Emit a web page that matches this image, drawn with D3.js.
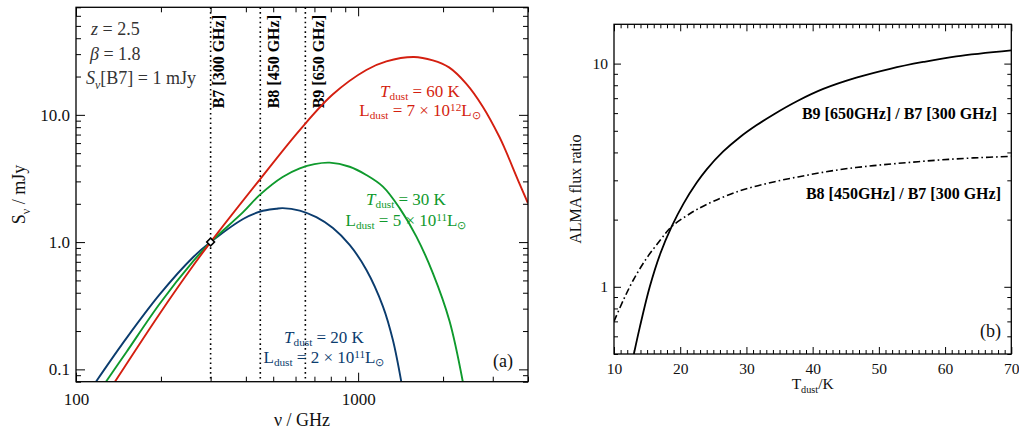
<!DOCTYPE html>
<html><head><meta charset="utf-8">
<script src="https://cdn.jsdelivr.net/npm/d3@7"></script>
<style>
body{margin:0;background:#fff}
svg{display:block}
text{font-family:"Liberation Serif","Times New Roman",serif;white-space:pre}
</style>
</head><body>
<svg id="c" width="1019" height="434"></svg>
<script>
// ---------------- data ----------------
// Panel (a): observed-frame SEDs normalised at B7
const xLDomain = [100, 4000];
const yLDomain = [0.08, 70];
const xLMajor = [100, 1000];
const yLMajor = [0.1, 1, 10];
const yLMajorLabels = ["0.1", "1.0", "10.0"];

const nu20 = [117.7, 151, 198, 260, 300, 391, 450, 513, 540, 621, 711, 814, 933, 1069, 1224, 1328, 1422];
const s20  = [0.080, 0.176, 0.388, 0.76, 1.0, 1.52, 1.74, 1.83, 1.85, 1.77, 1.57, 1.29, 0.95, 0.607, 0.313, 0.170, 0.080];

const nu30 = [127.7, 151, 198, 260, 300, 391, 448, 540, 621, 700, 793, 933, 1069, 1224, 1403, 1607, 1840, 2108, 2350];
const s30  = [0.080, 0.137, 0.328, 0.705, 1.0, 1.72, 2.35, 3.25, 3.80, 4.10, 4.21, 3.91, 3.37, 2.73, 1.85, 1.11, 0.571, 0.24, 0.080];

const nu60 = [137.4, 198, 260, 300, 448, 621, 814, 1069, 1259, 1576, 1840, 2100, 2415, 2766, 3169, 3325, 3708, 4000];
const s60  = [0.080, 0.274, 0.652, 1.0, 3.1, 7.6, 14.5, 22.5, 26.3, 28.5, 26.8, 23.6, 17.6, 11.6, 6.7, 5.3, 2.98, 2.02];

const sedTemps = ["20", "30", "60"];
const sedLumMant = ["2", "5", "7"];
const sedLumExp = ["11", "11", "12"];

const bandFreq = [300, 450, 650];
const bandLabels = ["B7 [300 GHz]", "B8 [450 GHz]", "B9 [650 GHz]"];
const markerNu = [300];
const markerS = [1];

// Panel (b): ALMA flux ratios vs dust temperature
const xRDomain = [10, 70];
const yRDomain = [0.5, 15];
const xRMajor = [10, 20, 30, 40, 50, 60, 70];
const yRMajor = [1, 10];

const tR9 = [13.0, 13.9, 15.4, 17.0, 18.7, 20.5, 22.5, 24.0, 26.5, 29.0, 31.5, 34.1, 37.7, 41.6, 46.6, 51.7, 56.7, 61.7, 70];
const r9  = [0.50, 0.66, 1.00, 1.41, 1.86, 2.36, 2.93, 3.36, 4.04, 4.68, 5.29, 5.92, 6.80, 7.70, 8.65, 9.48, 10.17, 10.78, 11.47];

const tR8 = [10, 11.4, 12.9, 14.9, 17.0, 18.7, 21.5, 24.0, 29.0, 34.1, 39.1, 44.1, 49.2, 54.2, 59.2, 64.3, 70];
const r8  = [0.70, 0.87, 1.07, 1.34, 1.62, 1.86, 2.13, 2.34, 2.69, 2.95, 3.16, 3.35, 3.49, 3.60, 3.70, 3.78, 3.84];

const ratioLabels = ["B9 [650GHz] / B7 [300 GHz]", "B8 [450GHz] / B7 [300 GHz]"];

// ---------------- drawing ----------------
const svg = d3.select("#c");
const COL = {blue: "#0b3c6e", green: "#0f9a2d", red: "#d41f10", text: "#333"};

function rich(g, x, y, parts, o) {
  const fs = o.fs;
  const t = g.append("text").attr("x", x).attr("y", y)
    .attr("font-size", fs).attr("fill", o.fill || "#000")
    .attr("text-anchor", o.anchor || "start");
  if (o.weight) t.attr("font-weight", o.weight);
  if (o.transform) t.attr("transform", o.transform);
  const subS = o.subShift == null ? 0.25 : o.subShift;
  const supS = o.supShift == null ? 0.36 : o.supShift;
  let shift = 0;
  parts.forEach(p => {
    const ts = t.append("tspan").text(p.t);
    const target = p.sub ? fs * subS : p.sup ? -fs * supS : 0;
    if (target - shift !== 0) ts.attr("dy", target - shift);
    shift = target;
    if (p.sub || p.sup) ts.attr("font-size", fs * 0.66);
    if (p.i) ts.attr("font-style", "italic");
  });
  return t;
}

function styleAxis(g, fs) {
  g.select(".domain").remove();
  g.selectAll("line").attr("stroke", "#000").attr("stroke-width", 1);
  g.selectAll("text").attr("font-size", fs).attr("fill", "#111")
    .style("font-family", '"Liberation Serif","Times New Roman",serif');
}

function frameAxes(x, y, P, o) {
  const g = svg.append("g");
  const minX = x.ticks(o.nMinX).filter(v => !o.majX.includes(v));
  const minY = y.ticks(o.nMinY).filter(v => !o.majY.some(m => Math.abs(m - v) < 1e-9 * m));
  // bottom
  g.append("g").attr("transform", `translate(0,${P.y1})`)
    .call(d3.axisBottom(x).tickValues(o.majX).tickFormat(o.fmtX).tickSize(-o.maj).tickSizeOuter(0).tickPadding(o.padX))
    .call(s => styleAxis(s, o.fs));
  g.append("g").attr("transform", `translate(0,${P.y1})`)
    .call(d3.axisBottom(x).tickValues(minX).tickFormat("").tickSize(-o.min).tickSizeOuter(0))
    .call(s => styleAxis(s, o.fs));
  // top
  g.append("g").attr("transform", `translate(0,${P.y0})`)
    .call(d3.axisTop(x).tickValues(o.majX).tickFormat("").tickSize(-o.maj).tickSizeOuter(0))
    .call(s => styleAxis(s, o.fs));
  g.append("g").attr("transform", `translate(0,${P.y0})`)
    .call(d3.axisTop(x).tickValues(minX).tickFormat("").tickSize(-o.min).tickSizeOuter(0))
    .call(s => styleAxis(s, o.fs));
  // left
  g.append("g").attr("transform", `translate(${P.x0},0)`)
    .call(d3.axisLeft(y).tickValues(o.majY).tickFormat(o.fmtY).tickSize(-o.maj).tickSizeOuter(0).tickPadding(o.padY))
    .call(s => styleAxis(s, o.fs));
  g.append("g").attr("transform", `translate(${P.x0},0)`)
    .call(d3.axisLeft(y).tickValues(minY).tickFormat("").tickSize(-o.min).tickSizeOuter(0))
    .call(s => styleAxis(s, o.fs));
  // right
  g.append("g").attr("transform", `translate(${P.x1},0)`)
    .call(d3.axisRight(y).tickValues(o.majY).tickFormat("").tickSize(-o.maj).tickSizeOuter(0))
    .call(s => styleAxis(s, o.fs));
  g.append("g").attr("transform", `translate(${P.x1},0)`)
    .call(d3.axisRight(y).tickValues(minY).tickFormat("").tickSize(-o.min).tickSizeOuter(0))
    .call(s => styleAxis(s, o.fs));
  // frame
  g.append("rect").attr("x", P.x0).attr("y", P.y0)
    .attr("width", P.x1 - P.x0).attr("height", P.y1 - P.y0)
    .attr("fill", "none").attr("stroke", "#000").attr("stroke-width", 1.3);
}

// ===== Panel (a) =====
const A = {x0: 76, x1: 528, y0: 7.3, y1: 381.7};
const xL = d3.scaleLog().domain(xLDomain).range([A.x0, A.x1]);
const yL = d3.scaleLog().domain(yLDomain).range([A.y1, A.y0]);

svg.append("clipPath").attr("id", "clipA").append("rect")
  .attr("x", A.x0).attr("y", A.y0).attr("width", A.x1 - A.x0).attr("height", A.y1 - A.y0);
svg.append("clipPath").attr("id", "clipB").append("rect")
  .attr("x", 614).attr("y", 24.3).attr("width", 1011.3 - 614).attr("height", 354 - 24.3);

const gA = svg.append("g");

// band lines
const bandG = gA.append("g");
bandFreq.forEach((f, i) => {
  bandG.append("line").attr("x1", xL(f)).attr("x2", xL(f))
    .attr("y1", A.y0).attr("y2", A.y1)
    .attr("stroke", "#000").attr("stroke-width", 1.6).attr("stroke-dasharray", "1.6,3.2");
});
const bandOff = [13.5, 18.5, 19];
bandFreq.forEach((f, i) => {
  bandG.append("text")
    .attr("transform", `translate(${xL(f) + bandOff[i]},15) rotate(-90)`)
    .attr("text-anchor", "end").attr("font-size", 16).attr("font-weight", "bold")
    .attr("fill", "#000").text(bandLabels[i]);
});

// curves
const lineL = d3.line().x(d => xL(d[0])).y(d => yL(d[1])).curve(d3.curveCatmullRom.alpha(0.5));
const curves = [
  {nu: nu20, s: s20, c: COL.blue},
  {nu: nu30, s: s30, c: COL.green},
  {nu: nu60, s: s60, c: COL.red}
];
const cg = gA.append("g").attr("clip-path", "url(#clipA)");
curves.forEach(cv => {
  cg.append("path").datum(d3.zip(cv.nu, cv.s))
    .attr("d", lineL).attr("fill", "none").attr("stroke", cv.c).attr("stroke-width", 1.9);
});

// marker
gA.selectAll(".mk").data(d3.zip(markerNu, markerS)).join("path")
  .attr("transform", d => `translate(${xL(d[0])},${yL(d[1])}) rotate(45)`)
  .attr("d", d3.symbol().type(d3.symbolSquare).size(30))
  .attr("fill", "#fff").attr("stroke", "#000").attr("stroke-width", 1.6);

// axes and frame
frameAxes(xL, yL, A, {
  majX: xLMajor, majY: yLMajor, nMinX: 10, nMinY: 10,
  fmtX: d => String(d), fmtY: (d, i) => yLMajorLabels[i],
  maj: 9, min: 5, padX: 11, padY: 6, fs: 17
});

// annotations
const ann = svg.append("g");
rich(ann, 91, 35, [{t: "z", i: true}, {t: " = 2.5"}], {fs: 18, fill: COL.text});
rich(ann, 90, 60, [{t: "β", i: true}, {t: " = 1.8"}], {fs: 18, fill: COL.text});
rich(ann, 86, 84, [{t: "S", i: true}, {t: "ν", i: true, sub: true}, {t: "[B7] = 1 mJy"}], {fs: 18, fill: COL.text});

const labPos = [
  {cx: 324, yT: 343, yL: 363, c: COL.blue},
  {cx: 406, yT: 205, yL: 226, c: COL.green},
  {cx: 420, yT: 96.5, yL: 116, c: COL.red}
];
labPos.forEach((p, i) => {
  rich(ann, p.cx, p.yT, [{t: "T", i: true}, {t: "dust", sub: true}, {t: " = " + sedTemps[i] + " K"}],
    {fs: 17, fill: p.c, anchor: "middle", subShift: 0.2});
  rich(ann, p.cx, p.yL, [{t: "L"}, {t: "dust", sub: true}, {t: " = " + sedLumMant[i] + " × 10"},
    {t: sedLumExp[i], sup: true}, {t: "L"}, {t: "⊙", sub: true}],
    {fs: 17, fill: p.c, anchor: "middle", subShift: 0.2, supShift: 0.3});
});

ann.append("text").attr("x", 513).attr("y", 367).attr("text-anchor", "end")
  .attr("font-size", 18).attr("fill", "#111").text("(a)");

rich(ann, (A.x0 + A.x1) / 2, 426, [{t: "ν / GHz"}], {fs: 18, fill: "#111", anchor: "middle"});
rich(ann, 0, 0, [{t: "S"}, {t: "ν", sub: true}, {t: " / mJy"}],
  {fs: 18, fill: "#111", anchor: "middle", transform: `translate(25,${(A.y0 + A.y1) / 2}) rotate(-90)`});

// ===== Panel (b) =====
const B = {x0: 614, x1: 1011.3, y0: 24.3, y1: 354};
const xR = d3.scaleLinear().domain(xRDomain).range([B.x0, B.x1]);
const yR = d3.scaleLog().domain(yRDomain).range([B.y1, B.y0]);

const lineR = d3.line().x(d => xR(d[0])).y(d => yR(d[1])).curve(d3.curveCatmullRom.alpha(0.5));
const rg = svg.append("g").attr("clip-path", "url(#clipB)");
rg.append("path").datum(d3.zip(tR9, r9)).attr("d", lineR)
  .attr("fill", "none").attr("stroke", "#000").attr("stroke-width", 1.8);
rg.append("path").datum(d3.zip(tR8, r8)).attr("d", lineR)
  .attr("fill", "none").attr("stroke", "#000").attr("stroke-width", 1.6)
  .attr("stroke-dasharray", "7,3,1.6,3");

frameAxes(xR, yR, B, {
  majX: xRMajor, majY: yRMajor, nMinX: 60, nMinY: 10,
  fmtX: d => String(d), fmtY: d => String(d),
  maj: 7, min: 4, padX: 9, padY: 6, fs: 15.5
});

svg.append("text").attr("x", 997).attr("y", 119).attr("text-anchor", "end")
  .attr("font-size", 16).attr("font-weight", "bold").text(ratioLabels[0]);
svg.append("text").attr("x", 1001).attr("y", 199).attr("text-anchor", "end")
  .attr("font-size", 16).attr("font-weight", "bold").text(ratioLabels[1]);
svg.append("text").attr("x", 1001).attr("y", 337).attr("text-anchor", "end")
  .attr("font-size", 18).attr("fill", "#111").text("(b)");

rich(svg, (B.x0 + B.x1) / 2, 389, [{t: "T"}, {t: "dust", sub: true}, {t: "/K"}],
  {fs: 15.5, fill: "#111", anchor: "middle"});
svg.append("text").attr("transform", `translate(581,${(B.y0 + B.y1) / 2}) rotate(-90)`)
  .attr("text-anchor", "middle").attr("font-size", 16).attr("fill", "#111").text("ALMA flux ratio");
</script>
</body></html>
